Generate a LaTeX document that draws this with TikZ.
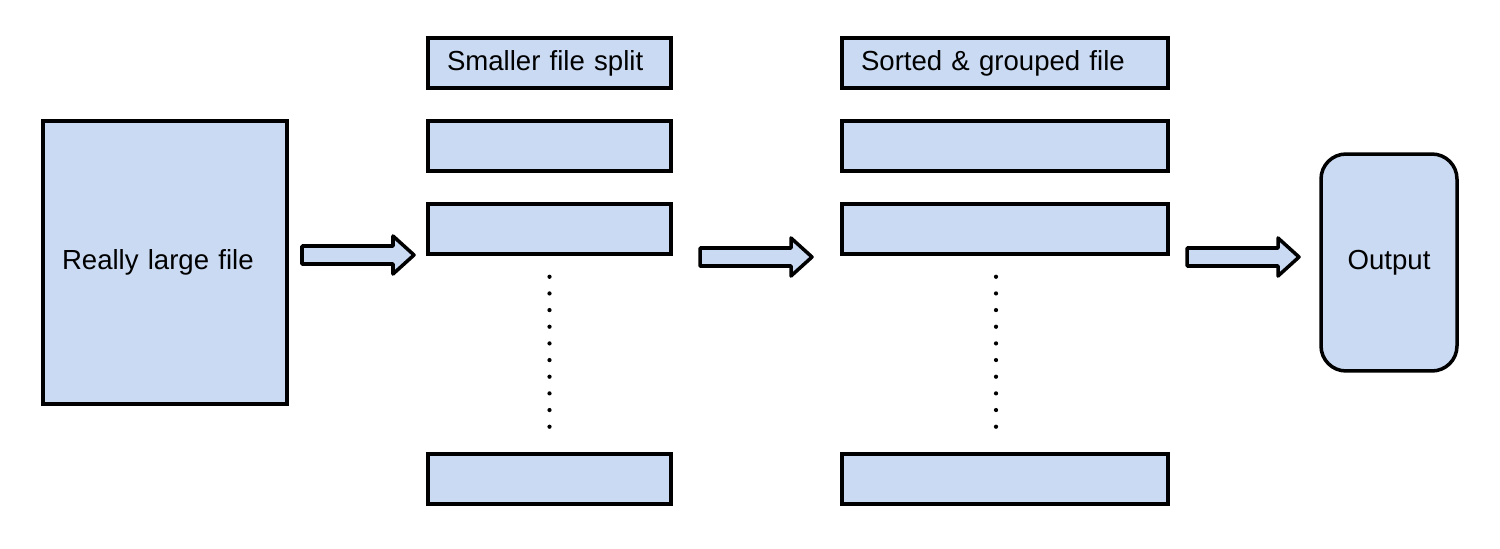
\documentclass[tikz,border=0pt]{standalone}
\usepackage{fontspec}
\setmainfont{Liberation Sans}
\usetikzlibrary{positioning}
\definecolor{boxblue}{RGB}{201,218,242}
\tikzset{
  filebox/.style={draw, fill=boxblue, line width=2pt, minimum height=1cm,
    inner xsep=0.38cm, align=left, font=\fontsize{15.7}{19}\selectfont},
  splitbox/.style={filebox, text width=4.1cm},
  sortbox/.style={filebox, text width=5.76cm},
  blockarrow/.style={draw, fill=boxblue, line width=2pt, line join=round},
  dotline/.style={line width=2.4pt, line cap=round, dash pattern=on 0pt off 0.3333cm}
}
\begin{document}
\begin{tikzpicture}[x=0.02cm, y=-0.02cm]
   \useasboundingbox (0,0) rectangle (1500,548);
   % input
   \node[filebox, minimum width=4.88cm, minimum height=5.66cm, text width=4.12cm] (big) at (165,262.5) {Really large file};
   % split files
   \node[splitbox] (s1) at (549.5,63) {Smaller file split};
   \node[splitbox] (s2) at (549.5,146) {};
   \node[splitbox] (s3) at (549.5,229) {};
   \node[splitbox] (s4) at (549.5,479) {};
   % sorted files
   \node[sortbox] (g1) at (1005,63) {Sorted \& grouped file};
   \node[sortbox] (g2) at (1005,146) {};
   \node[sortbox] (g3) at (1005,229) {};
   \node[sortbox] (g4) at (1005,479) {};
   % output
   \node[draw, fill=boxblue, line width=2pt, rounded corners=0.5cm, minimum width=2.72cm,
     minimum height=4.34cm, font=\fontsize{15.7}{19}\selectfont] (out) at (1389,262.5) {Output};
   % dots
   \draw[dotline] ([yshift=-0.42cm]s3.south) -- ++(0,150);
   \draw[dotline] ([xshift=-0.18cm,yshift=-0.42cm]g3.south) -- ++(0,150);
   % arrows
   \foreach \x/\c in {302/255, 700/257, 1187/257}
      \draw[blockarrow] (\x,\c-9) -- ++(91,0) -- ++(0,-10) -- (\x+112,\c) -- (\x+91,\c+19)
         -- ++(0,-10) -- (\x,\c+9) -- cycle;
\end{tikzpicture}
\end{document}
